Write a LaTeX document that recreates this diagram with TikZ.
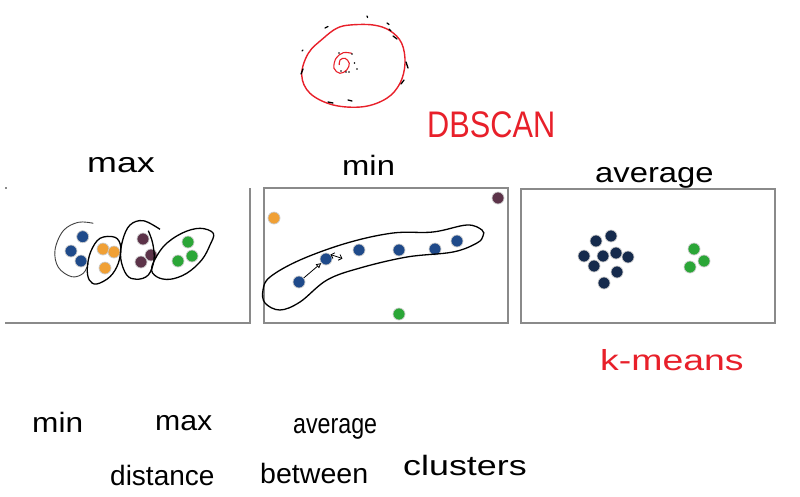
\documentclass[tikz,border=0pt]{standalone}
\usepackage{fontspec}
\setmainfont{Liberation Sans}
\usetikzlibrary{arrows.meta}
\definecolor{cblue}{HTML}{1F4A8A}
\definecolor{corange}{HTML}{F0A035}
\definecolor{cpurple}{HTML}{5C3349}
\definecolor{cgreen}{HTML}{2BA637}
\definecolor{cnavy}{HTML}{152A4C}
\definecolor{cred}{HTML}{E8202A}
\definecolor{cframe}{HTML}{8A8A8A}
\tikzset{
  dot/.style={circle,inner sep=0pt,minimum size=12pt,draw=gray!40,line width=0.7pt},
  frame/.style={draw=cframe,line width=1.1pt},
  hull/.style={draw=black,line width=1.3pt},
  thinhull/.style={draw=black!75,line width=0.9pt},
  hw/.style={inner sep=0pt,anchor=base west,font=\fontsize{28}{30}\selectfont},
  redhw/.style={hw,text=cred}
}
\begin{document}
\begin{tikzpicture}[x=1pt,y=-1pt]
\useasboundingbox (0,0) rectangle (800,496);
\fill[white] (0,0) rectangle (800,496);

% ---------- DBSCAN sketch ----------
\draw[cred,line width=1.4pt] plot[smooth cycle,tension=0.6] coordinates {
 (350,25) (373.3,25) (390,30.7) (401.7,43.3) (405,63.3) (400,83.3) (386.7,98.3)
 (363.3,106.7) (333.3,105) (310,93.3) (301.7,75) (308.3,53.3) (323.3,38.3) (336.7,28.3)};
\draw[cred,line width=1.1pt] plot[smooth,tension=0.6] coordinates {
 (351.7,53.3) (343.3,52.7) (336,58.3) (334,68.3) (340,73.3) (346.7,70) (349.3,63.3) (345,58.3) (340,60) (339.3,65)};
\foreach \a/\b/\c/\d in {367/16/367.6/17.5, 387/23/389/24.5, 325/28/328/26.5, 302/51/303/50,
  393/36/397/39, 406/62/408/68, 401/84/404/80, 348/100/352/101, 328/102/333/103, 301/74/303/69, 389/29/391/31}
  \draw[black,line width=1.3pt,line cap=round] (\a,\b) -- (\c,\d);
\foreach \p in {(352,54),(354.5,63),(357,69),(341,71),(349,72),(339,53),(346,72)}
  \fill[black] \p circle (0.8pt);

\node[redhw,font=\fontsize{37}{39}\selectfont] (dbscan) at (427,137) {\scalebox{0.83}[1]{DBSCAN}};

% ---------- headings ----------
\node[hw] (hmax) at (87,172) {\scalebox{1.28}[1]{max}};
\node[hw] (hmin) at (342,175) {\scalebox{1.17}[1]{min}};
\node[hw] (havg) at (595,182) {\scalebox{1.17}[1]{average}};

% ---------- left panel (max) ----------
\draw[frame] (6,187) -- (6,189);
\draw[frame] (250,188) -- (250,323) -- (5,323);
\node[dot,fill=cblue] (b1) at (82.7,236.7) {};
\node[dot,fill=cblue] (b2) at (71,251) {};
\node[dot,fill=cblue] (b3) at (81,261) {};
\node[dot,fill=corange] (o1) at (103,249) {};
\node[dot,fill=corange] (o2) at (114,252) {};
\node[dot,fill=corange] (o3) at (105,268) {};
\node[dot,fill=cpurple] (p1) at (143,239) {};
\node[dot,fill=cpurple] (p2) at (151,255) {};
\node[dot,fill=cpurple] (p3) at (141,262) {};
\node[dot,fill=cgreen] (g1) at (188,242) {};
\node[dot,fill=cgreen] (g2) at (192,256) {};
\node[dot,fill=cgreen] (g3) at (178,261) {};
\draw[thinhull] plot[smooth,tension=0.6] coordinates {
 (93.3,223.3) (78.3,222.3) (63.3,230.7) (55,250) (58.3,267.3) (71.7,276.7) (83.3,273.3) (88.3,263.3)};
\draw[hull] plot[smooth cycle,tension=0.6] coordinates {
 (100,238.3) (115,237.3) (120.7,246.7) (118.3,263.3) (110,276.7) (96.7,284) (89.3,280) (87.3,268.3) (90.7,251.7)};
\draw[hull] plot[smooth,tension=0.6] coordinates {
 (160,229.3) (143.3,220.7) (130,225) (122.7,240) (120.7,258.3) (126.7,275) (136.7,279.3) (148.3,275) (154,260) (152.7,243.3) (148.3,230.7)};
\draw[hull] plot[smooth cycle,tension=0.6] coordinates {
 (151.7,267.3) (163.3,246.7) (181.7,233.3) (200,228.3) (213.3,233.3) (210,245) (201.7,260) (186.7,273.3) (170,279.3) (156.7,276.7)};

% ---------- middle panel (min) ----------
\draw[frame] (264,188) rectangle (508,323);
\node[dot,fill=corange] (mo) at (274,218) {};
\node[dot,fill=cpurple] (mp) at (498,198) {};
\node[dot,fill=cgreen] (mg) at (399,314) {};
\node[dot,fill=cblue] (m1) at (299,282) {};
\node[dot,fill=cblue] (m2) at (326,259) {};
\node[dot,fill=cblue] (m3) at (359,250) {};
\node[dot,fill=cblue] (m4) at (399,250) {};
\node[dot,fill=cblue] (m5) at (435,249) {};
\node[dot,fill=cblue] (m6) at (457,241) {};
\draw[hull] plot[smooth cycle,tension=0.6] coordinates {
 (270,277) (300,260) (347,243) (393,233) (433,232) (467,225) (482,230) (483,236)
 (477,243) (453,252) (407,257) (360,268) (327,280) (300,302) (280,310) (265,303) (263,290)};
\draw[black,line width=0.8pt,-{Triangle[open,length=5pt,width=5pt]}] (m1) -- (m2);
\draw[black,line width=0.8pt,{Straight Barb[length=3pt,width=6pt]}-{Straight Barb[length=3pt,width=6pt]}] (m2.north east) -- ([xshift=12pt,yshift=-4pt]m2.north east);

% ---------- right panel (average) ----------
\draw[frame] (521,189) rectangle (775,323);
\foreach \n/\x/\y in {a1/611/236, a2/596/241, a3/584/256, a4/603/256, a5/616/253, a6/628/257, a7/594/266, a8/617/272, a9/604/283}
  \node[dot,fill=cnavy] (\n) at (\x,\y) {};
\node[dot,fill=cgreen] (ag1) at (694,249) {};
\node[dot,fill=cgreen] (ag2) at (704,261) {};
\node[dot,fill=cgreen] (ag3) at (690,267) {};

\node[redhw,font=\fontsize{29}{31}\selectfont] (kmeans) at (600,370) {\scalebox{1.29}[1]{k-means}};

% ---------- bottom text ----------
\node[hw] (bmin) at (32,432) {\scalebox{1.13}[1]{min}};
\node[hw] (bmax) at (155,430) {\scalebox{1.08}[1]{max}};
\node[hw] (bavg) at (293,433) {\scalebox{0.83}[1]{average}};
\node[hw] (bdist) at (110,485) {distance};
\node[hw] (bbetw) at (260,483) {\scalebox{1.02}[1]{between}};
\node[hw] (bclus) at (403,475) {\scalebox{1.28}[1]{clusters}};
\end{tikzpicture}
\end{document}
